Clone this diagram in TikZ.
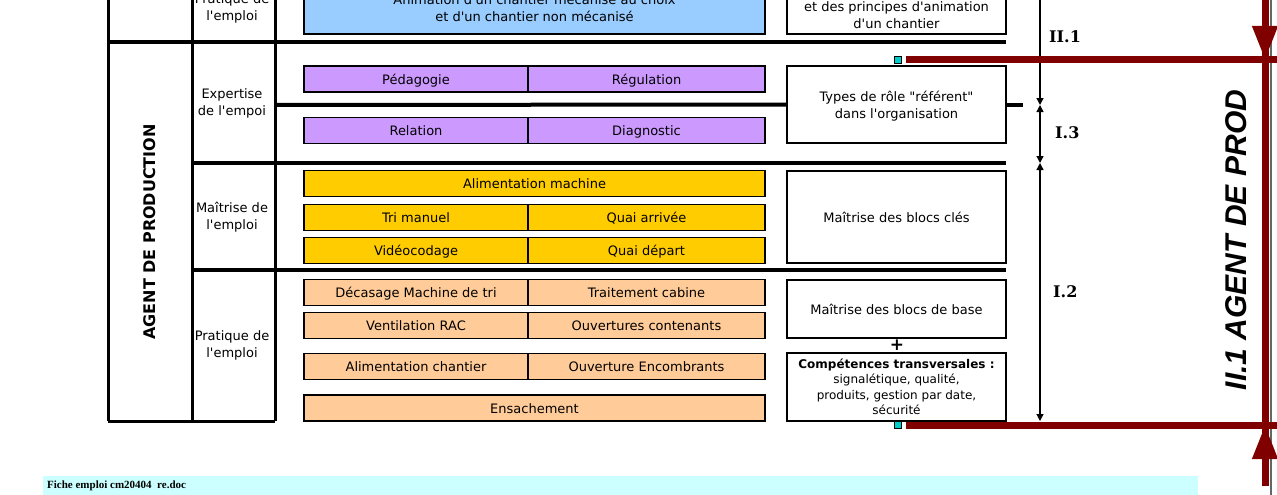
\documentclass[tikz,border=0pt]{standalone}
\usepackage{fontspec}
\usepackage{tikz}
\usetikzlibrary{positioning,arrows.meta}
\newfontfamily\verd{DejaVu Sans}
\newfontfamily\verdserif{DejaVu Serif}
\newfontfamily\arialf{Liberation Sans}
\newfontfamily\timesf{Liberation Serif}
\definecolor{lavfill}{HTML}{CC99FF}
\definecolor{goldfill}{HTML}{FFCC00}
\definecolor{peachfill}{HTML}{FFCC99}
\definecolor{skyfill}{HTML}{99CCFF}
\definecolor{palefill}{HTML}{CCFFFF}
\definecolor{maroonline}{HTML}{800000}
\definecolor{handlefill}{HTML}{00CCCC}

\begin{document}
\begin{tikzpicture}[
    x=1pt, y=-1pt,
    >={Triangle[width=7pt,length=7pt]},
    txt/.style={font=\verd\fontsize{13}{17}\selectfont, align=center, inner sep=0pt},
    blk/.style={txt, draw=black, line width=1.6pt, minimum height=26pt},
    oneline/.style={blk, text height=11pt, text depth=0.5pt},
    expbox/.style={oneline, fill=lavfill},
    clebox/.style={oneline, fill=goldfill},
    basbox/.style={oneline, fill=peachfill},
    anibox/.style={blk, fill=skyfill},
    rolebox/.style={blk, fill=white, minimum width=219pt},
    rule/.style={line width=4pt},
    colrule/.style={line width=3pt},
    dim/.style={line width=1.3pt},
    lvl/.style={font=\verdserif\bfseries\fontsize{16}{16}\selectfont, anchor=west, inner sep=0pt},
    redline/.style={maroonline, line width=7pt},
    bigtip/.style={-{Triangle[width=24pt,length=34pt]}},
    handle/.style={draw=black, line width=1pt, fill=handlefill, minimum size=7pt, inner sep=0pt},
  ]
    \useasboundingbox (0,0) rectangle (1277,495);
    \clip (0,0) rectangle (1277,495);

    % table
    \draw[colrule] (108,-5) -- (108,421);
    \draw[colrule] (192,-5) -- (192,421);
    \draw[colrule] (275,-5) -- (275,421);
    \draw[rule] (108,42) -- (1006,42);
    \draw[rule] (192,163) -- (1006,163);
    \draw[rule] (192,270) -- (1006,270);
    \draw[colrule] (108,421) -- (275,421);

    \node[txt, font=\verd\bfseries\fontsize{16}{16}\selectfont, rotate=90] (agent) at (150,232) {AGENT DE PRODUCTION};

    \node[txt] (prat0) at (232,8) {Pratique de\\l'emploi};
    \node[txt] (expl) at (232,103.5) {Expertise\\de l'empoi};
    \node[txt] (mait) at (232,217.5) {Maîtrise de\\l'emploi};
    \node[txt] (prat) at (232,345.5) {Pratique de\\l'emploi};

    \node[anibox, minimum width=461pt, minimum height=60pt, anchor=south] (anim) at (534.5,35) {};
    \node[txt, above=13pt of anim.south] (animtxt) {Animation d'un chantier mécanisé au choix\\et d'un chantier non mécanisé};
    \node[rolebox, minimum height=70pt, anchor=south] (princ) at (896.5,35) {};
    \node[txt, above=6pt of princ.south] (princtxt) {et des principes d'animation\\d'un chantier};

    \node[expbox, minimum width=224pt] (peda) at (416,79) {Pédagogie};
    \node[expbox, minimum width=237pt] (regu) at (646.5,79) {Régulation};
    \node[expbox, minimum width=224pt] (rela) at (416,130.5) {Relation};
    \node[expbox, minimum width=237pt] (diag) at (646.5,130.5) {Diagnostic};
    \node[rolebox, minimum height=77pt] (role) at (896.5,104.5) {};
    \node[txt] (roletxt) at ([yshift=-2pt]role.center) {Types de rôle "référent"\\dans l'organisation};
    \draw[rule] (275,105) -- (role.west);
    \draw[rule] (role.east) -- ++(16,0);

    \node[clebox, minimum width=461pt] (alim) at (534.5,183.5) {Alimentation machine};
    \node[clebox, minimum width=224pt] (tri) at (416,217.5) {Tri manuel};
    \node[clebox, minimum width=237pt] (quaia) at (646.5,217.5) {Quai arrivée};
    \node[clebox, minimum width=224pt] (video) at (416,250.5) {Vidéocodage};
    \node[clebox, minimum width=237pt] (quaid) at (646.5,250.5) {Quai départ};
    \node[rolebox, minimum height=92pt] (cles) at (896.5,217) {Maîtrise des blocs clés};

    \node[basbox, minimum width=224pt] (deca) at (416,292.5) {Décasage Machine de tri};
    \node[basbox, minimum width=237pt] (trait) at (646.5,292.5) {Traitement cabine};
    \node[basbox, minimum width=224pt] (vent) at (416,325.5) {Ventilation RAC};
    \node[basbox, minimum width=237pt] (ouvc) at (646.5,325.5) {Ouvertures contenants};
    \node[basbox, minimum width=224pt] (alch) at (416,366.5) {Alimentation chantier};
    \node[basbox, minimum width=237pt] (ouve) at (646.5,366.5) {Ouverture Encombrants};
    \node[basbox, minimum width=461pt] (ensa) at (534.5,408) {Ensachement};
    \node[rolebox, minimum height=58pt] (base) at (896.5,309) {Maîtrise des blocs de base};
    \node[txt, font=\verd\bfseries\fontsize{17}{17}\selectfont] (plus) at (897,345.5) {+};
    \node[rolebox, minimum height=68pt, font=\verd\fontsize{12}{15.5}\selectfont] (transv) at (896.5,387)
      {\bfseries Compétences transversales :\\signalétique, qualité,\\produits, gestion par date,\\sécurité};

    % levels
    \coordinate (d0) at (1040,-5);
    \coordinate (d1) at (1040,105);
    \coordinate (d2) at (1040,163);
    \coordinate (d3) at (1040,421);
    \draw[dim, ->] (d0) -- (d1);
    \draw[dim, <->] (d1) -- (d2);
    \draw[dim, <->] (d2) -- (d3);
    \node[lvl] (lii1) at (1049,37) {II.1};
    \node[lvl] (li3) at (1055,133) {I.3};
    \node[lvl] (li2) at (1053,292) {I.2};

    % job frame
    \draw[black!60, line width=2pt] (1271,0) -- (1271,495);
    \node[handle] (h1) at (898,60) {};
    \node[handle] (h2) at (898,425) {};
    \coordinate (e1) at (1277,60);
    \coordinate (e2) at (1277,425);
    \draw[redline] ([xshift=4pt]h1.east) -- (e1);
    \draw[redline] ([xshift=4pt]h2.east) -- (e2);
    \coordinate (vt) at (1265,-5);
    \coordinate (vb) at (1265,486);
    \coordinate (a1) at (1265,60);
    \coordinate (a2) at (1265,425);
    \draw[redline] (vt) -- (vb);
    \draw[redline, bigtip] (vt) -- (a1);
    \draw[redline, bigtip] (vb) -- (a2);
    \node[font=\arialf\bfseries\itshape\fontsize{30}{30}\selectfont, rotate=90, inner sep=0pt] (prod) at (1236,240) {II.1 AGENT DE PROD};

    \node[fill=palefill, minimum width=1155pt, minimum height=20pt, anchor=north west, inner sep=0pt] (foot) at (43,476) {};
    \node[font=\timesf\bfseries\fontsize{11}{11}\selectfont, anchor=west, inner sep=0pt] (foottxt) at ([xshift=4pt]foot.west) {Fiche emploi cm20404\ \ re.doc};
  \end{tikzpicture}
\end{document}
